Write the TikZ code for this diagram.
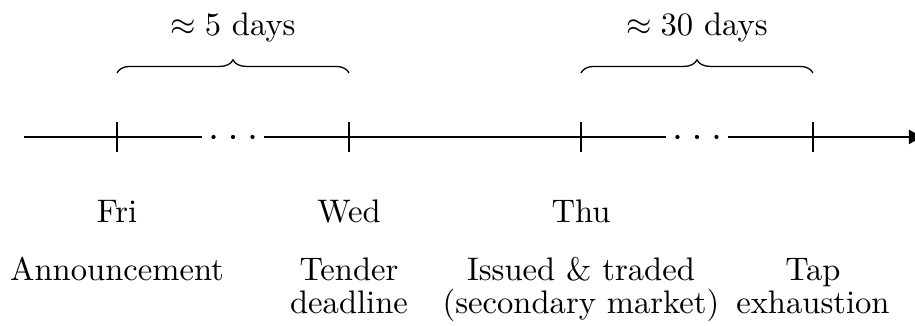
\documentclass[tikz,border=0pt]{standalone}
\usetikzlibrary{decorations.pathreplacing,arrows.meta}
\begin{document}
\begin{tikzpicture}[
  axisline/.style={line width=0.45pt},
  tickmark/.style={line width=0.4pt},
  gapdot/.style={fill=black, draw=none},
  span/.style={decorate, decoration={brace, amplitude=4pt}, line width=0.4pt},
  daylbl/.style={anchor=base, inner sep=0pt},
  eventlbl/.style={anchor=base, inner sep=0pt, align=center, font=\fontsize{10}{10}\selectfont},
  spanlbl/.style={anchor=base, inner sep=0pt}
]
\useasboundingbox (-1.261,-2.037) rectangle (8.600,1.476);

% tick positions on the time axis
\coordinate (start) at (-1,0);
\coordinate (t1) at (0,0);
\coordinate (t2) at (2.5,0);
\coordinate (t3) at (5,0);
\coordinate (t4) at (7.5,0);
\coordinate (stop) at (8.71,0);

% ends of the interrupted stretches
\coordinate (g1a) at (0.916,0);
\coordinate (g1b) at (1.584,0);
\coordinate (g2a) at (5.916,0);
\coordinate (g2b) at (6.584,0);

% the axis, broken twice by three dots
\draw[axisline] (start) -- (g1a);
\draw[axisline] (g1b) -- (g2a);
\draw[axisline, -{Latex[length=5pt,width=4.6pt]}] (g2b) -- (stop);
\foreach \c in {1.04,1.25,1.46,6.04,6.25,6.46}
  \fill[gapdot] (\c,0) circle (0.65pt);

% tick marks
\foreach \t in {t1,t2,t3,t4}
  \draw[tickmark] ([yshift=-0.16cm]\t) -- ([yshift=0.16cm]\t);

% braces with durations
\draw[span] ([yshift=0.69cm]t1) -- ([yshift=0.69cm]t2);
\draw[span] ([yshift=0.69cm]t3) -- ([yshift=0.69cm]t4);
\node[spanlbl] (d1) at (1.25,1.088) {$\approx 5$ days};
\node[spanlbl] (d2) at (6.25,1.088) {$\approx 30$ days};

% weekdays
\node[daylbl] (fri) at ([yshift=-0.924cm]t1) {Fri};
\node[daylbl] (wed) at ([yshift=-0.924cm]t2) {Wed};
\node[daylbl] (thu) at ([yshift=-0.924cm]t3) {Thu};

% events (a multi-line node sits on the baseline of its last line)
\node[eventlbl] (ann) at ([yshift=-1.546cm]t1) {Announcement};
\node[eventlbl] (ten) at ([yshift=-1.899cm]t2) {Tender\\deadline};
\node[eventlbl] (iss) at ([yshift=-1.899cm]t3) {Issued \& traded\\(secondary market)};
\node[eventlbl] (tap) at ([yshift=-1.899cm]t4) {Tap\\exhaustion};
\end{tikzpicture}
\end{document}
